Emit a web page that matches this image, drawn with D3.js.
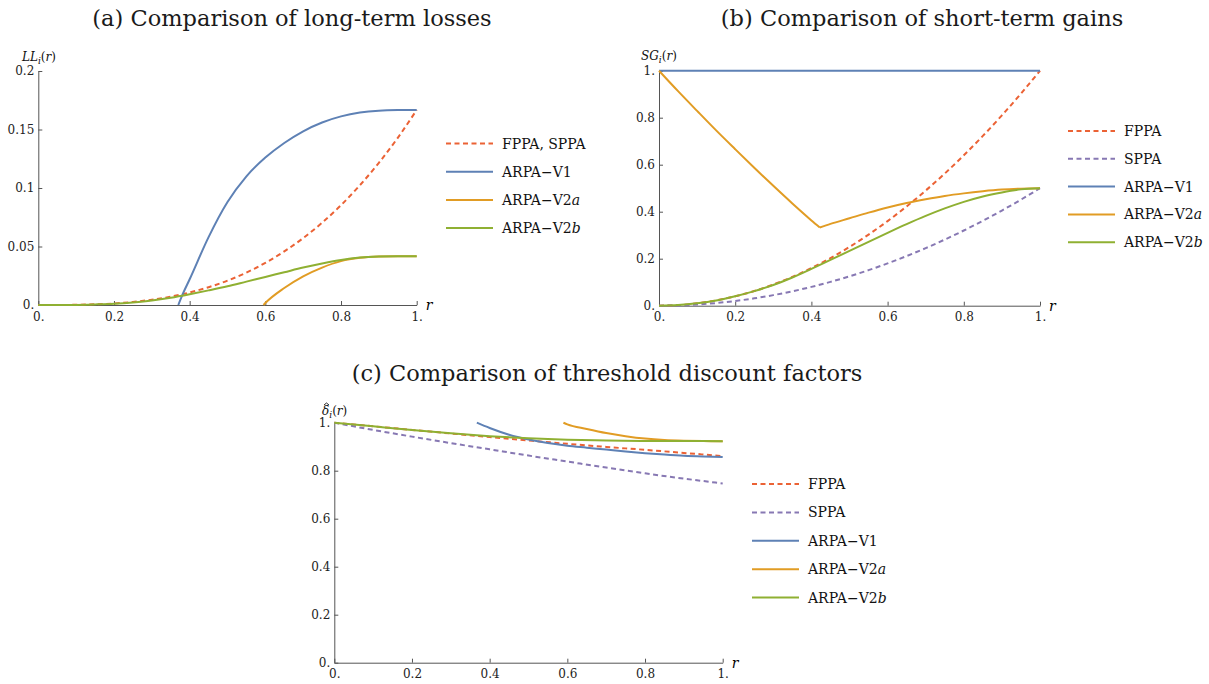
<!DOCTYPE html>
<html>
<head>
<meta charset="utf-8">
<script src="https://cdn.jsdelivr.net/npm/d3@7"></script>
<style>
  body { margin: 0; background: #fff; }
  svg { display: block; }
  .tick text { font-family: "DejaVu Serif", serif; font-size: 12px; fill: #222; }
</style>
</head>
<body>
<div id="chart"></div>
<script>

// (a) long-term losses
const rA = [0, 0.05, 0.1, 0.15, 0.2, 0.25, 0.3, 0.35, 0.4, 0.45, 0.5, 0.55, 0.6, 0.65, 0.7, 0.75, 0.8, 0.85, 0.9, 0.95, 1];
const llFppa = [0, 0.00002, 0.0002, 0.0006, 0.0013, 0.0026, 0.0045, 0.0071, 0.0107, 0.0152, 0.0208, 0.0277, 0.036, 0.0458, 0.0572, 0.0703, 0.0853, 0.1024, 0.1215, 0.1429, 0.1667];
const llV2b = [0, 0.00002, 0.0001, 0.0005, 0.0011, 0.0022, 0.0038, 0.0062, 0.0092, 0.0125, 0.016, 0.02, 0.024, 0.028, 0.032, 0.0355, 0.0385, 0.0405, 0.0414, 0.0417, 0.0417];
const rV1a = [0.37, 0.38, 0.4, 0.45, 0.5, 0.55, 0.6, 0.65, 0.7, 0.75, 0.8, 0.85, 0.9, 0.95, 1];
const llV1 = [0, 0.008, 0.022, 0.058, 0.088, 0.11, 0.126, 0.1385, 0.1485, 0.156, 0.1612, 0.1645, 0.1661, 0.1666, 0.1667];
const rV2aA = [0.595, 0.6, 0.65, 0.7, 0.75, 0.8, 0.85, 0.9, 0.95, 1];
const llV2a = [0, 0.0017, 0.0145, 0.0245, 0.032, 0.0375, 0.0403, 0.0414, 0.0417, 0.0417];

// (b) short-term gains
const sgFppa = [0, 0.0025, 0.01, 0.0225, 0.04, 0.0625, 0.09, 0.1225, 0.16, 0.2025, 0.25, 0.3025, 0.36, 0.4225, 0.49, 0.5625, 0.64, 0.7225, 0.81, 0.9025, 1];
const sgSppa = [0, 0.0013, 0.005, 0.0113, 0.02, 0.0313, 0.045, 0.0613, 0.08, 0.1013, 0.125, 0.1513, 0.18, 0.2113, 0.245, 0.2813, 0.32, 0.3613, 0.405, 0.4513, 0.5];
const sgV2b = [0, 0.0025, 0.01, 0.022, 0.04, 0.062, 0.088, 0.12, 0.157, 0.195, 0.233, 0.272, 0.31, 0.347, 0.382, 0.414, 0.442, 0.465, 0.482, 0.495, 0.5];
const rV1b = [0, 1];
const sgV1 = [1, 1];
const rV2aB1 = [0, 0.05, 0.1, 0.15, 0.2, 0.25, 0.3, 0.35, 0.4, 0.422];
const sgV2a1 = [1, 0.913, 0.829, 0.746, 0.666, 0.587, 0.51, 0.435, 0.363, 0.333];
const rV2aB2 = [0.422, 0.45, 0.5, 0.55, 0.6, 0.65, 0.7, 0.75, 0.8, 0.85, 0.9, 0.95, 1];
const sgV2a2 = [0.333, 0.348, 0.372, 0.396, 0.418, 0.437, 0.453, 0.467, 0.478, 0.487, 0.494, 0.498, 0.5];

// (c) threshold discount factors
const rC = [0, 0.1, 0.2, 0.3, 0.4, 0.5, 0.6, 0.7, 0.8, 0.9, 1];
const dFppa = [1, 0.985, 0.97, 0.955, 0.94, 0.926, 0.912, 0.899, 0.887, 0.874, 0.861];
const dSppa = [1, 0.97, 0.942, 0.915, 0.889, 0.863, 0.838, 0.813, 0.789, 0.767, 0.747];
const dV2b = [1, 0.985, 0.97, 0.956, 0.944, 0.935, 0.929, 0.926, 0.924, 0.9235, 0.923];
const rV1c = [0.367, 0.4, 0.45, 0.5, 0.55, 0.6, 0.65, 0.7, 0.75, 0.8, 0.85, 0.9, 0.95, 1];
const dV1 = [1, 0.978, 0.95, 0.93, 0.915, 0.904, 0.896, 0.888, 0.88, 0.873, 0.867, 0.862, 0.859, 0.857];
const rV2aC = [0.59, 0.6, 0.65, 0.7, 0.75, 0.8, 0.85, 0.9, 0.95, 1];
const dV2a = [1, 0.993, 0.974, 0.957, 0.944, 0.934, 0.928, 0.925, 0.9235, 0.923];

const xTicks = [0, 0.2, 0.4, 0.6, 0.8, 1];
const yTicksA = [0, 0.05, 0.1, 0.15, 0.2];
const yTicksBC = [0, 0.2, 0.4, 0.6, 0.8, 1];

// Styles (Mathematica default palette)
const C = { red: '#EB6235', purple: '#8778B3', blue: '#5E81B5', orange: '#E19C24', green: '#8FB032' };
const DASH = '5,3.5';
const FONT = '"DejaVu Serif", serif';

const zip = (r, v) => r.map((x, i) => [x, v[i]]);

const W = 1209, H = 684;
const svg = d3.select('#chart').append('svg')
  .attr('width', W).attr('height', H)
  .attr('viewBox', `0 0 ${W} ${H}`);

const fmt = d => d === 0 ? '0.' : d === 1 ? '1.' : String(d);

/**
 * Draw one panel: axes, curves, legend, titles.
 */
function panel(cfg) {
  const x = d3.scaleLinear().domain([0, 1]).range([cfg.x0, cfg.x1]);
  const y = d3.scaleLinear().domain([0, cfg.yMax]).range([cfg.yBot, cfg.yTop]);
  const g = svg.append('g');

  // Title
  svg.append('text')
    .attr('x', cfg.titleX).attr('y', cfg.titleY)
    .attr('text-anchor', 'middle')
    .style('font-family', FONT).style('font-size', '22.5px').style('fill', '#1a1a1a')
    .text(cfg.title);

  // Axes, ticks pointing inward like Mathematica
  const xa = g.append('g')
    .attr('transform', `translate(0,${cfg.yBot})`)
    .call(d3.axisBottom(x).tickValues(xTicks).tickFormat(fmt)
      .tickSize(-4).tickSizeOuter(0).tickPadding(7));
  const ya = g.append('g')
    .attr('transform', `translate(${cfg.x0},0)`)
    .call(d3.axisLeft(y).tickValues(cfg.yTicks).tickFormat(fmt)
      .tickSize(-4).tickSizeOuter(0).tickPadding(4));
  [xa, ya].forEach(a => {
    a.attr('font-family', null);
    a.select('.domain').attr('stroke', '#555').attr('stroke-width', 1);
    a.selectAll('.tick line').attr('stroke', '#555');
  });

  // Axis name r
  g.append('text')
    .attr('x', cfg.x1 + 9).attr('y', cfg.yBot)
    .attr('dominant-baseline', 'central')
    .style('font-family', FONT).style('font-size', '14px').style('font-style', 'italic')
    .text('r');

  // Y label
  const yl = g.append('text')
    .attr('x', cfg.yLabelX).attr('y', cfg.yLabelY)
    .style('font-family', FONT).style('font-size', '12px').style('fill', '#111');
  yl.append('tspan').style('font-style', 'italic').text(cfg.yName);
  yl.append('tspan').style('font-style', 'italic').style('font-size', '9px').attr('dy', 3).text('i');
  yl.append('tspan').attr('dy', -3).text('(');
  yl.append('tspan').style('font-style', 'italic').text('r');
  yl.append('tspan').text(')');
  if (cfg.hat) {
    const hx = cfg.yLabelX + 4.5, hy = cfg.yLabelY - 12;
    g.append('path')
      .attr('d', `M${hx - 2.5},${hy + 2}L${hx},${hy}L${hx + 2.5},${hy + 2}`)
      .attr('fill', 'none').attr('stroke', '#111').attr('stroke-width', 0.9);
  }

  // Curves
  const line = d3.line()
    .x(d => x(d[0]))
    .y(d => y(d[1]))
    .curve(d3.curveMonotoneX);
  cfg.series.forEach(s => {
    s.parts.forEach(pts => {
      g.append('path')
        .attr('d', line(pts))
        .attr('fill', 'none')
        .attr('stroke', s.color)
        .attr('stroke-width', 2)
        .attr('stroke-dasharray', s.dash ? DASH : null);
    });
  });

  // Legend
  const lg = svg.append('g');
  cfg.legend.forEach((l, i) => {
    const ly = cfg.legY + i * cfg.legStep;
    lg.append('line')
      .attr('x1', cfg.legX).attr('x2', cfg.legX + 47)
      .attr('y1', ly).attr('y2', ly)
      .attr('stroke', l.color).attr('stroke-width', 2)
      .attr('stroke-dasharray', l.dash ? DASH : null);
    const t = lg.append('text')
      .attr('x', cfg.legX + 56).attr('y', ly)
      .attr('dominant-baseline', 'central')
      .style('font-family', FONT).style('font-size', '14px').style('fill', '#111');
    t.append('tspan').text(l.label);
    if (l.it) t.append('tspan').style('font-style', 'italic').text(l.it);
  });
}

const legA = [
  { label: 'FPPA, SPPA', color: C.red, dash: true },
  { label: 'ARPA\u2212V1', color: C.blue },
  { label: 'ARPA\u2212V2', it: 'a', color: C.orange },
  { label: 'ARPA\u2212V2', it: 'b', color: C.green }
];
const legBC = [
  { label: 'FPPA', color: C.red, dash: true },
  { label: 'SPPA', color: C.purple, dash: true },
  { label: 'ARPA\u2212V1', color: C.blue },
  { label: 'ARPA\u2212V2', it: 'a', color: C.orange },
  { label: 'ARPA\u2212V2', it: 'b', color: C.green }
];

panel({
  title: '(a) Comparison of long-term losses', titleX: 292, titleY: 26,
  x0: 38.3, x1: 416.7, yTop: 71, yBot: 305, yMax: 0.2, yTicks: yTicksA,
  yName: 'LL', yLabelX: 22, yLabelY: 61,
  series: [
    { color: C.red, dash: true, parts: [zip(rA, llFppa)] },
    { color: C.blue, parts: [zip(rV1a, llV1)] },
    { color: C.orange, parts: [zip(rV2aA, llV2a)] },
    { color: C.green, parts: [zip(rA, llV2b)] }
  ],
  legend: legA, legX: 446, legY: 143.5, legStep: 28.2
});

panel({
  title: '(b) Comparison of short-term gains', titleX: 922, titleY: 26,
  x0: 659, x1: 1040, yTop: 70.7, yBot: 305.7, yMax: 1, yTicks: yTicksBC,
  yName: 'SG', yLabelX: 641, yLabelY: 60,
  series: [
    { color: C.red, dash: true, parts: [zip(rA, sgFppa)] },
    { color: C.purple, dash: true, parts: [zip(rA, sgSppa)] },
    { color: C.blue, parts: [zip(rV1b, sgV1)] },
    { color: C.orange, parts: [zip(rV2aB1, sgV2a1), zip(rV2aB2, sgV2a2)] },
    { color: C.green, parts: [zip(rA, sgV2b)] }
  ],
  legend: legBC, legX: 1068, legY: 131, legStep: 27.8
});

panel({
  title: '(c) Comparison of threshold discount factors', titleX: 607, titleY: 381,
  x0: 334.3, x1: 722.7, yTop: 422.7, yBot: 662.7, yMax: 1, yTicks: yTicksBC,
  yName: '\u03B4', hat: true, yLabelX: 322, yLabelY: 415,
  series: [
    { color: C.red, dash: true, parts: [zip(rC, dFppa)] },
    { color: C.purple, dash: true, parts: [zip(rC, dSppa)] },
    { color: C.blue, parts: [zip(rV1c, dV1)] },
    { color: C.orange, parts: [zip(rV2aC, dV2a)] },
    { color: C.green, parts: [zip(rC, dV2b)] }
  ],
  legend: legBC, legX: 752, legY: 484, legStep: 28.4
});
</script>
</body>
</html>
